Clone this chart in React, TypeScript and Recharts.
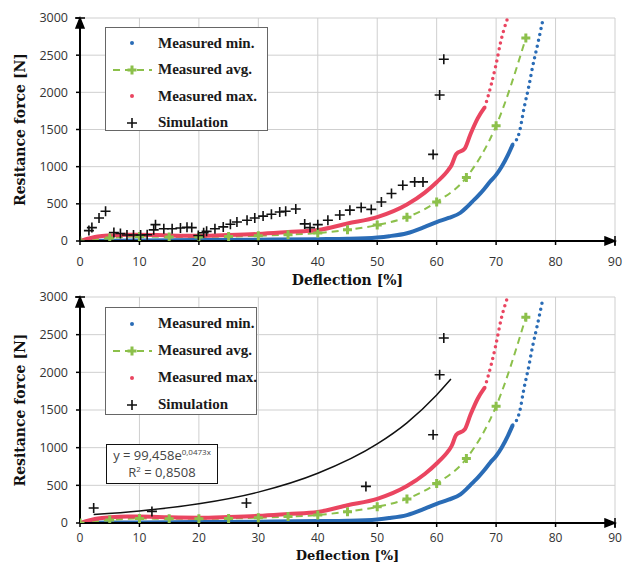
import React from "react";
import {
  ComposedChart,
  Line,
  Scatter,
  XAxis,
  YAxis,
  CartesianGrid,
  ReferenceDot,
} from "recharts";

// axis ticks
const X_TICKS = [0, 10, 20, 30, 40, 50, 60, 70, 80, 90];
const Y_TICKS = [0, 500, 1000, 1500, 2000, 2500, 3000];

// measured min. (blue) – dense part and the sparse dotted tail
const minDense: [number, number][] = [
  [0, 0], [5, 5], [10, 8], [20, 12], [30, 18], [40, 25], [45, 30], [50, 48],
  [52, 65], [55, 105], [58, 190], [60, 255], [62, 310], [64, 380], [65, 450],
  [66, 530], [67, 610], [68, 700], [69, 800], [70, 890], [71, 1010], [72, 1160],
  [72.8, 1300],
];
const minTail: [number, number][] = [
  [72.8, 1300], [73.9, 1460], [74.7, 1790], [75.5, 2080], [76.1, 2330],
  [77.0, 2650], [77.8, 2950],
];

// measured max. (red)
const maxDense: [number, number][] = [
  [0, 0], [1, 25], [2, 45], [3, 60], [5, 75], [8, 85], [10, 85], [15, 75],
  [20, 70], [25, 80], [30, 95], [35, 120], [40, 147], [45, 235], [50, 320],
  [55, 490], [58, 650], [60, 790], [62, 960], [62.5, 1020], [63.3, 1170],
  [64.7, 1240], [65.7, 1440], [66.9, 1650], [68.1, 1800],
];
const maxTail: [number, number][] = [
  [68.1, 1800], [69.2, 2110], [70, 2380], [70.8, 2690], [71.9, 2990],
];

// measured avg. (green, markers every 5 %)
const avgPts: [number, number][] = [
  [0, 0], [5, 40], [10, 60], [15, 55], [20, 55], [25, 60], [30, 70], [35, 85],
  [40, 107], [45, 150], [50, 215], [55, 320], [60, 525], [65, 855], [70, 1550],
  [75, 2730],
];

// simulation, upper plot
const simTop: [number, number][] = [
  [0, 0], [1.5, 140], [2.0, 180], [3.2, 310], [4.3, 400], [5.7, 115], [6.8, 100],
  [7.9, 80], [9.0, 80], [10.2, 80], [11.3, 85], [12.4, 150], [12.7, 220],
  [14.1, 165], [15.5, 165], [16.9, 175], [18.0, 185], [18.8, 180], [19.9, 75],
  [20.8, 110], [21.3, 130], [22.7, 165], [24.1, 190], [25.3, 225], [26.4, 255],
  [28.1, 280], [29.4, 310], [30.8, 335], [32.2, 360], [33.6, 390], [34.6, 400],
  [36.3, 430], [37.8, 230], [38.7, 180], [40.0, 220], [41.7, 280], [43.7, 350],
  [45.4, 415], [47.3, 450], [49.0, 425], [50.7, 525], [52.4, 640], [54.3, 750],
  [56.3, 795], [57.7, 795], [59.4, 1165], [60.5, 1965], [61.2, 2445],
];

// simulation, lower plot + its exponential trend line
const simBottom: [number, number][] = [
  [2.3, 199], [12.1, 154], [28.0, 265], [48.1, 486], [59.4, 1172], [60.5, 1968],
  [61.2, 2455],
];
const trendPts: [number, number][] = [
  [2.3, 112], [10, 160], [20, 255], [30, 410], [40, 660], [50, 1050],
  [55, 1330], [60, 1700], [62.4, 1910],
];

const BLUE = "#2a6cb6";
const RED = "#ea4560";
const GREEN = "#8cc04b";
const TICK_FONT = "'Open Sans', sans-serif";
const TITLE_FONT = "'DejaVu Serif', serif";
const LEG_FONT = "'Liberation Serif', 'Times New Roman', serif";

const toData = (pts: [number, number][]) => pts.map(([x, y]) => ({ x, y }));

function Plus({ cx, cy, size, color, width }: any) {
  if (cx == null || cy == null) return null;
  const h = size / 2;
  return (
    <path
      d={`M${cx - h},${cy}H${cx + h}M${cx},${cy - h}V${cy + h}`}
      stroke={color}
      strokeWidth={width}
      fill="none"
    />
  );
}

function Panel({ height, top, tickMargin, tickFont, titleOffset, titleFont, sim, trend }: any) {
  const axisH = height - 241;
  return (
    <ComposedChart width={630} height={height} margin={{ top, right: 15, left: 0, bottom: 0 }}>
      <CartesianGrid stroke="#cfcfcf" strokeWidth={1} />
      <XAxis
        type="number"
        dataKey="x"
        domain={[0, 90]}
        ticks={X_TICKS}
        interval={0}
        allowDataOverflow
        height={axisH}
        tickSize={4}
        tickMargin={tickMargin}
        axisLine={{ stroke: "#000", strokeWidth: 2 }}
        tickLine={{ stroke: "#000", strokeWidth: 1.5 }}
        tick={{ fontSize: tickFont, fill: "#333", fontFamily: TICK_FONT }}
        label={{
          value: "Deflection [%]",
          position: "insideBottom",
          offset: titleOffset,
          style: { fontFamily: TITLE_FONT, fontWeight: "bold", fontSize: titleFont, fill: "#111" },
        }}
      />
      <YAxis
        type="number"
        dataKey="y"
        domain={[0, 3000]}
        ticks={Y_TICKS}
        interval={0}
        allowDataOverflow
        width={80}
        tickSize={4}
        tickMargin={8}
        axisLine={{ stroke: "#000", strokeWidth: 2 }}
        tickLine={{ stroke: "#000", strokeWidth: 1.5 }}
        tick={{ fontSize: 12.5, fill: "#333", fontFamily: TICK_FONT }}
        label={{
          value: "Resitance force [N]",
          angle: -90,
          position: "insideLeft",
          offset: 20,
          style: {
            textAnchor: "middle",
            fontFamily: TITLE_FONT,
            fontWeight: "bold",
            fontSize: 14,
            fill: "#111",
          },
        }}
      />
      <Line data={toData(minDense)} dataKey="y" type="monotone" stroke={BLUE} strokeWidth={4} dot={false} isAnimationActive={false} />
      <Line data={toData(minTail)} dataKey="y" type="monotone" stroke={BLUE} strokeWidth={3.5} strokeDasharray="0 6" strokeLinecap="round" dot={false} isAnimationActive={false} />
      <Line
        data={toData(avgPts)}
        dataKey="y"
        type="monotone"
        stroke={GREEN}
        strokeWidth={2}
        strokeDasharray="7 5"
        dot={(p: any) => <Plus key={`avg-${p.index}`} cx={p.cx} cy={p.cy} size={9} color={GREEN} width={3} />}
        isAnimationActive={false}
      />
      <Line data={toData(maxDense)} dataKey="y" type="monotone" stroke={RED} strokeWidth={4} dot={false} isAnimationActive={false} />
      <Line data={toData(maxTail)} dataKey="y" type="monotone" stroke={RED} strokeWidth={3.5} strokeDasharray="0 6" strokeLinecap="round" dot={false} isAnimationActive={false} />
      {trend && (
        <Line data={toData(trend)} dataKey="y" type="monotone" stroke="#111" strokeWidth={1.5} dot={false} isAnimationActive={false} />
      )}
      <Scatter
        data={toData(sim)}
        dataKey="y"
        shape={(p: any) => <Plus cx={p.cx} cy={p.cy} size={10} color="#111" width={1.6} />}
        isAnimationActive={false}
      />
      <ReferenceDot
        x={0}
        y={3000}
        r={0}
        ifOverflow="visible"
        shape={(p: any) => (
          <path
            d={`M${p.cx - 4},${p.cy + 10}L${p.cx},${p.cy}L${p.cx + 4},${p.cy + 10}Z M${p.cx - 5},${p.cy}H${p.cx + 5}`}
            fill="#000"
            stroke="#000"
            strokeWidth={1.5}
          />
        )}
      />
      <ReferenceDot
        x={90}
        y={0}
        r={0}
        ifOverflow="visible"
        shape={(p: any) => (
          <path
            d={`M${p.cx - 10},${p.cy - 4}L${p.cx},${p.cy}L${p.cx - 10},${p.cy + 4}Z M${p.cx},${p.cy - 5}V${p.cy + 5}`}
            fill="#000"
            stroke="#000"
            strokeWidth={1.5}
          />
        )}
      />
    </ComposedChart>
  );
}

function LegendIcon({ kind }: { kind: string }) {
  return (
    <svg width={52} height={20} style={{ display: "block", flex: "none" }}>
      {kind === "min" && <circle cx={26} cy={10} r={2} fill={BLUE} />}
      {kind === "max" && <circle cx={26} cy={10} r={2} fill={RED} />}
      {kind === "avg" && (
        <g>
          <line x1={7} y1={10} x2={46} y2={10} stroke={GREEN} strokeWidth={2} strokeDasharray="7 5" />
          <Plus cx={26} cy={10} size={9} color={GREEN} width={3} />
        </g>
      )}
      {kind === "sim" && <Plus cx={26} cy={10} size={10} color="#111" width={1.6} />}
    </svg>
  );
}

const LEGEND_ROWS = [
  { kind: "min", label: "Measured min." },
  { kind: "avg", label: "Measured avg." },
  { kind: "max", label: "Measured max." },
  { kind: "sim", label: "Simulation" },
];

function LegendBox({ left, top, width, height, rowH }: any) {
  return (
    <div
      style={{
        position: "absolute",
        left,
        top,
        width,
        height,
        boxSizing: "border-box",
        border: "1.5px solid #666",
        background: "#fff",
        paddingTop: 2,
      }}
    >
      {LEGEND_ROWS.map((r) => (
        <div key={r.kind} style={{ display: "flex", alignItems: "center", height: rowH }}>
          <LegendIcon kind={r.kind} />
          <span style={{ fontFamily: LEG_FONT, fontWeight: "bold", fontSize: 15, color: "#1a1a1a", whiteSpace: "nowrap" }}>
            {r.label}
          </span>
        </div>
      ))}
    </div>
  );
}

export default function App() {
  return (
    <div style={{ position: "absolute", left: 0, top: 0, width: 630, height: 564, background: "#fff", overflow: "hidden" }}>
      <div style={{ position: "absolute", left: 0, top: 0 }}>
        <Panel height={288} top={18} tickMargin={12} tickFont={12.5} titleOffset={3} titleFont={14} sim={simTop} />
      </div>
      <div style={{ position: "absolute", left: 0, top: 282 }}>
        <Panel height={282} top={15} tickMargin={6} tickFont={12} titleOffset={4} titleFont={13} sim={simBottom} trend={trendPts} />
      </div>
      <LegendBox left={105} top={27} width={163} height={104} rowH={26.5} />
      <LegendBox left={105} top={307} width={152} height={108} rowH={27} />
      <div
        style={{
          position: "absolute",
          left: 106,
          top: 444,
          width: 112,
          height: 40,
          boxSizing: "border-box",
          border: "1.5px solid #111",
          background: "#fff",
          fontFamily: TICK_FONT,
          fontSize: 13,
          color: "#444",
          textAlign: "center",
          lineHeight: "17px",
          paddingTop: 2,
        }}
      >
        <div>
          y = 99,458e<sup style={{ fontSize: 8, lineHeight: 0 }}>0,0473x</sup>
        </div>
        <div>
          R<sup style={{ fontSize: 8, lineHeight: 0 }}>2</sup> = 0,8508
        </div>
      </div>
    </div>
  );
}
